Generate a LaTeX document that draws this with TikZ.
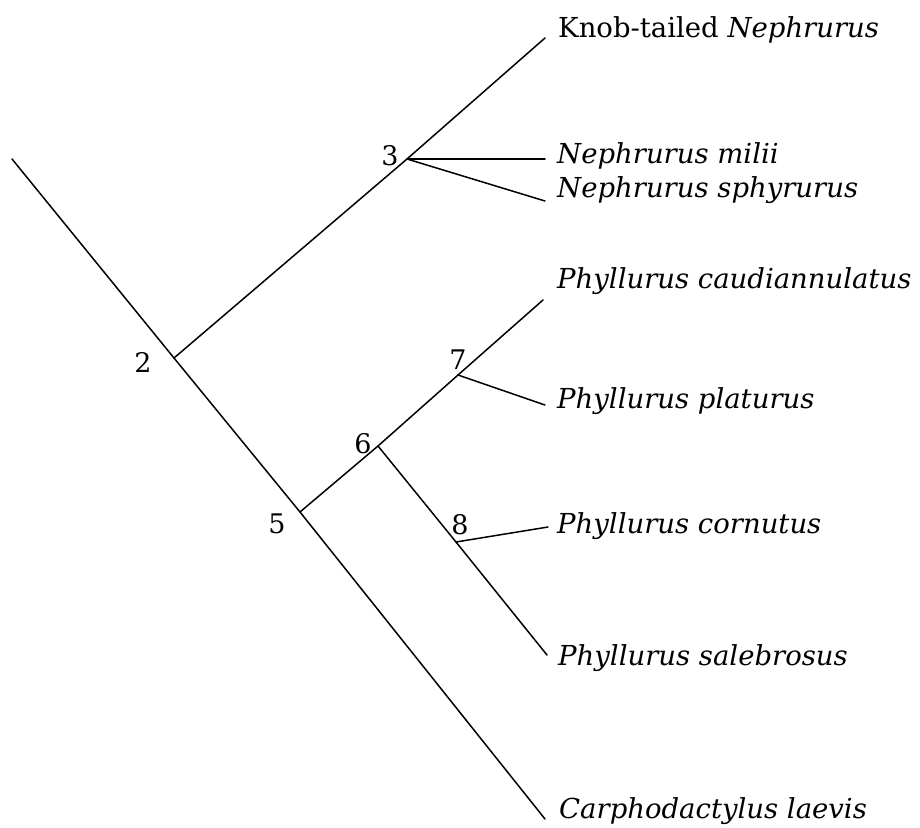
\documentclass[tikz,border=0pt]{standalone}
\usepackage{fontspec}
\setmainfont{DejaVu Serif}
\usetikzlibrary{positioning}

\begin{document}
\begin{tikzpicture}[
  x=1pt, y=-1pt,
  branch/.style={line width=1.5pt, line cap=round},
  taxon/.style={anchor=base west, inner sep=0pt, font=\fontsize{27.5}{32}\selectfont\itshape},
  cladenum/.style={inner sep=0pt, font=\fontsize{27}{32}\selectfont}
]
\useasboundingbox (0,0) rectangle (920,827);

\coordinate (root) at (12,159);
\coordinate (n2) at (174,358);
\coordinate (n3) at (407,159);
\coordinate (n5) at (300,512);
\coordinate (n6) at (378,446);
\coordinate (n7) at (458,375);
\coordinate (n8) at (456,542);

\coordinate (tknob) at (545,38);
\coordinate (tmilii) at (545,159);
\coordinate (tsphy) at (545,201);
\coordinate (tcaud) at (543,300);
\coordinate (tplat) at (545,405);
\coordinate (tcorn) at (548,527);
\coordinate (tsale) at (547,655);
\coordinate (tcarp) at (545,819);

\node[taxon] (knob) at (558,37) {\upshape Knob-tailed \itshape Nephrurus};
\node[taxon] (milii) at (557,163) {Nephrurus milii};
\node[taxon] (sphy) at (557,197) {Nephrurus sphyrurus};
\node[taxon] (caud) at (557,288) {Phyllurus caudiannulatus};
\node[taxon] (plat) at (557,408) {Phyllurus platurus};
\node[taxon] (corn) at (557,533) {Phyllurus cornutus};
\node[taxon] (sale) at (558,665) {Phyllurus salebrosus};
\node[taxon] (carp) at (559,818) {Carphodactylus laevis};

\node[cladenum] (l2) at (143,362) {2};
\node[cladenum] (l3) at (390,156) {3};
\node[cladenum] (l5) at (277,524) {5};
\node[cladenum] (l6) at (363,444) {6};
\node[cladenum] (l7) at (458,360) {7};
\node[cladenum] (l8) at (460,525) {8};

\draw[branch] (root) -- (n2) -- (n5) -- (tcarp);
\draw[branch] (n2) -- (n3) -- (tknob);
\draw[branch] (n3) -- (tmilii);
\draw[branch] (n3) -- (tsphy);
\draw[branch] (n5) -- (n6) -- (n7) -- (tcaud);
\draw[branch] (n7) -- (tplat);
\draw[branch] (n6) -- (n8) -- (tsale);
\draw[branch] (n8) -- (tcorn);
\end{tikzpicture}
\end{document}
